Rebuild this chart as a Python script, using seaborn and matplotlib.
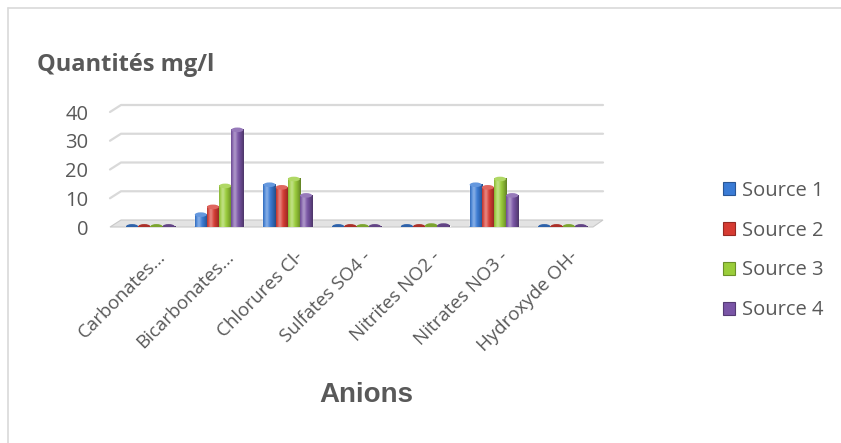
import numpy as np
import pandas as pd
import matplotlib
matplotlib.use("Agg")
import matplotlib.pyplot as plt
import seaborn as sns
from matplotlib.patches import Polygon, Ellipse, Rectangle
from matplotlib.lines import Line2D
from matplotlib.transforms import ScaledTranslation
from matplotlib import colors as mcolors

# Anion concentrations (mg/l) for the four sampled sources
categories = ["Carbonates…", "Bicarbonates…", "Chlorures Cl-", "Sulfates SO4 -",
              "Nitrites NO2 -", "Nitrates NO3 -", "Hydroxyde OH-"]
series_names = ["Source 1", "Source 2", "Source 3", "Source 4"]
source1 = [0.2, 4.3, 14.7, 0.2, 0.2, 14.7, 0.2]
source2 = [0.2, 7.0, 13.8, 0.2, 0.2, 13.8, 0.2]
source3 = [0.2, 14.3, 16.7, 0.2, 0.5, 16.7, 0.2]
source4 = [0.2, 33.8, 11.0, 0.2, 0.5, 11.0, 0.2]
y_ticks = [0, 10, 20, 30, 40]

palette = ["#3A7BD5", "#D63B32", "#9ACD3A", "#7A55A6"]
text_grey = "#595959"

df = pd.DataFrame({
    "Anion": categories * 4,
    "Source": np.repeat(series_names, len(categories)),
    "Valeur": source1 + source2 + source3 + source4,
})

sns.set_theme(style="white")
plt.rcParams["font.family"] = ["Open Sans", "DejaVu Sans"]

W, H = 841, 443
fig = plt.figure(figsize=(W / 100, H / 100), dpi=100)
fig.patch.set_facecolor("white")

# plot area in pixel units
left_px, right_px, top_px, bottom_px = 116, 597, 112, 227
ax = fig.add_axes([left_px / W, 1 - bottom_px / H,
                   (right_px - left_px) / W, (bottom_px - top_px) / H])

sns.barplot(data=df, x="Anion", y="Valeur", hue="Source", palette=palette,
            width=0.71, dodge=True, saturation=1, legend=False, ax=ax,
            errorbar=None, zorder=3)

ax.set_xlim(-0.5, 6.5)
ax.set_ylim(0, 40)
ax.set_yticks(y_ticks)
for s in ax.spines.values():
    s.set_visible(False)
ax.tick_params(axis="y", length=0, pad=20, labelsize=14.5, labelcolor=text_grey)
ax.tick_params(axis="x", length=0, pad=15, labelsize=13.5, labelcolor=text_grey)
shift = ScaledTranslation(6 / 100, 0, fig.dpi_scale_trans)
for lab in ax.get_xticklabels():
    lab.set_rotation(45)
    lab.set_ha("right")
    lab.set_rotation_mode("anchor")
    lab.set_transform(lab.get_transform() + shift)
ax.set_xlabel("")
ax.set_ylabel("")
ax.grid(False)

# 3D-style floor and back-wall gridlines
depth = 7 / (bottom_px - top_px)
fx0 = (110 - left_px) / (right_px - left_px)
bx0 = (121 - left_px) / (right_px - left_px)
fx1 = (593 - left_px) / (right_px - left_px)
bx1 = (603 - left_px) / (right_px - left_px)
floor = Polygon([(fx0, 0), (fx1, 0), (bx1, depth), (bx0, depth)], closed=True,
                transform=ax.transAxes, facecolor="#E3E3E3", edgecolor="#C9C9C9",
                linewidth=0.8, clip_on=False, zorder=1)
ax.add_patch(floor)
for v in y_ticks[1:]:
    yf = v / 40
    ax.add_line(Line2D([fx0, bx0, bx1], [yf, yf + depth, yf + depth],
                       transform=ax.transAxes, color="#D9D9D9", linewidth=1.6,
                       clip_on=False, zorder=0.5))


def shade_row(color, n=64):
    c = np.array(mcolors.to_rgb(color))
    t = np.linspace(0, 1, n)
    light = 0.38 * np.exp(-((t - 0.3) / 0.17) ** 2)
    dark = 0.38 * np.clip((t - 0.5) / 0.5, 0, 1) ** 1.4 + 0.15 * np.clip((0.12 - t) / 0.12, 0, 1)
    rows = c[None, :] * (1 - dark[:, None])
    rows = rows + (1 - rows) * light[:, None]
    return rows[None, :, :]


cap_h = 1.6
bars = [p for p in ax.patches if isinstance(p, Rectangle) and p is not floor]
for p in bars:
    x0, y0 = p.get_x(), p.get_y()
    w, h = p.get_width(), p.get_height()
    col = p.get_facecolor()
    base = np.array(mcolors.to_rgb(col))
    ax.imshow(shade_row(col), extent=[x0, x0 + w, y0, y0 + h], aspect="auto",
              interpolation="bicubic", zorder=4)
    ax.add_patch(Ellipse((x0 + w / 2, y0), w, cap_h, facecolor=base * 0.85,
                         edgecolor="none", zorder=3.9))
    top = base + (1 - base) * 0.22 if h > 1 else base * 0.8
    ax.add_patch(Ellipse((x0 + w / 2, y0 + h), w * 0.98, cap_h, facecolor=top,
                         edgecolor="none", zorder=4.2))
ax.set_xlim(-0.5, 6.5)
ax.set_ylim(0, 40)

# legend on the right
handles = [Rectangle((0, 0), 1, 1, facecolor=c,
                     edgecolor=mcolors.to_hex(np.array(mcolors.to_rgb(c)) * 0.7),
                     linewidth=0.8) for c in palette]
fig.legend(handles, series_names, loc="upper left",
           bbox_to_anchor=(723 / W, 1 - 181 / H), frameon=False,
           fontsize=14.5, labelcolor=text_grey, handlelength=0.62, handleheight=0.62,
           handletextpad=0.3, labelspacing=0.98, borderpad=0, borderaxespad=0)

fig.text(37 / W, 1 - 65 / H, "Quantités mg/l", fontsize=17, fontweight="bold",
         color=text_grey, ha="left", va="center")
fig.text(366 / W, 1 - 395 / H, "Anions", fontsize=20, fontweight="bold",
         color=text_grey, ha="center", va="center", family=["Liberation Sans", "DejaVu Sans"])

# chart frame
fig.add_artist(Line2D([8 / W, 8 / W], [0, 1 - 8 / H], transform=fig.transFigure,
                      color="#D9D9D9", linewidth=1.2))
fig.add_artist(Line2D([8 / W, 1], [1 - 8 / H, 1 - 8 / H], transform=fig.transFigure,
                      color="#D9D9D9", linewidth=1.2))

fig.savefig("out.png", dpi=100, facecolor="white")
